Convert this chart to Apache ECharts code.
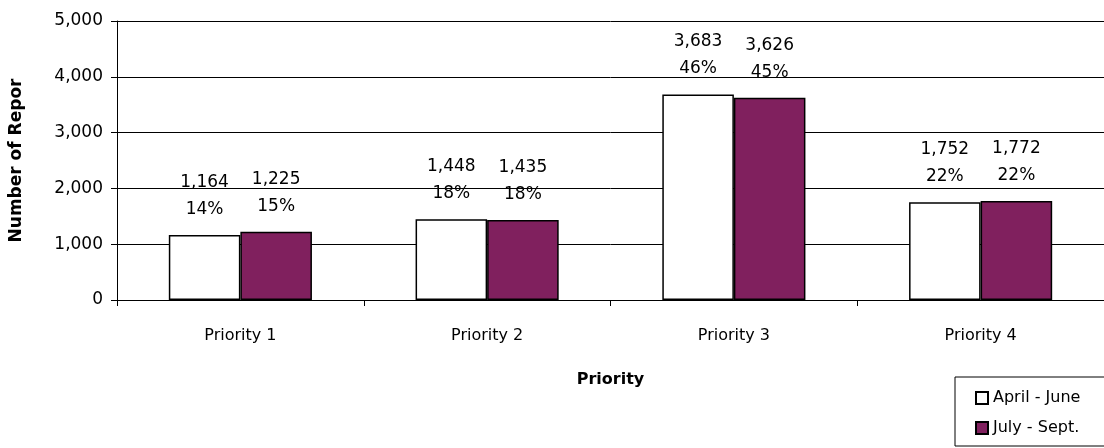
<!DOCTYPE html>
<html><head><meta charset="utf-8">
<script src="https://cdn.jsdelivr.net/npm/echarts@6/dist/echarts.min.js"></script>
<style>html,body{margin:0;padding:0;background:#fff}#c{width:1104px;height:448px}</style>
</head><body><div id="c"></div>
<script>
const categories = ['Priority 1', 'Priority 2', 'Priority 3', 'Priority 4'];
const seriesNames = ['April - June', 'July - Sept.'];
const aprJun = [1164, 1448, 3683, 1752];
const julSep = [1225, 1435, 3626, 1772];
const aprJunPct = [14, 18, 46, 22];
const julSepPct = [15, 18, 45, 22];
const yTicks = [0, 1000, 2000, 3000, 4000, 5000];

const FONT = 'DejaVu Sans';
const fmt = v => v.toLocaleString('en-US');

function lbl(pcts) {
  return {
    show: true, position: 'top', distance: 12,
    fontFamily: FONT, fontSize: 17, color: '#000', lineHeight: 27,
    formatter: p => fmt(p.value) + '\n' + pcts[p.dataIndex] + '%'
  };
}

const chart = echarts.init(document.getElementById('c'));
chart.setOption({
  animation: false,
  backgroundColor: '#fff',
  grid: { left: 116, top: 21, right: -8, bottom: 148 },
  legend: {
    orient: 'vertical', left: 955, top: 377,
    padding: [13, 60, 10, 20],
    borderColor: '#000', borderWidth: 1,
    itemWidth: 12, itemHeight: 12, itemGap: 14,
    icon: 'rect',
    textStyle: { fontFamily: FONT, fontSize: 16, color: '#000', padding: [0, 0, 0, 0] },
    data: seriesNames
  },
  xAxis: {
    type: 'category', data: categories,
    name: 'Priority', nameLocation: 'middle', nameGap: 72,
    nameTextStyle: { fontFamily: FONT, fontSize: 16, fontWeight: 'bold', color: '#000' },
    axisLine: { lineStyle: { color: '#000', width: 1 } },
    axisTick: { show: true, length: 6, lineStyle: { color: '#000' } },
    axisLabel: { fontFamily: FONT, fontSize: 16, color: '#000', margin: 28 }
  },
  yAxis: {
    type: 'value', min: yTicks[0], max: yTicks[yTicks.length - 1], interval: 1000,
    name: 'Number of Repor', nameLocation: 'middle', nameGap: 92,
    nameTextStyle: { fontFamily: FONT, fontSize: 17, fontWeight: 'bold', color: '#000' },
    axisLine: { show: true, lineStyle: { color: '#000', width: 1 } },
    axisTick: { show: true, length: 6, lineStyle: { color: '#000' } },
    axisLabel: { fontFamily: FONT, fontSize: 17, color: '#000', margin: 14, formatter: v => fmt(v) },
    splitLine: { show: true, lineStyle: { color: '#000', width: 1 } }
  },
  series: [
    {
      name: seriesNames[0], type: 'bar', data: aprJun,
      barGap: '0%', barCategoryGap: '42%',
      itemStyle: { color: '#fff', borderColor: '#000', borderWidth: 1.5 },
      label: lbl(aprJunPct)
    },
    {
      name: seriesNames[1], type: 'bar', data: julSep,
      barGap: '0%', barCategoryGap: '42%',
      itemStyle: { color: '#80205E', borderColor: '#000', borderWidth: 1.5 },
      label: lbl(julSepPct)
    }
  ]
});
</script></body></html>
